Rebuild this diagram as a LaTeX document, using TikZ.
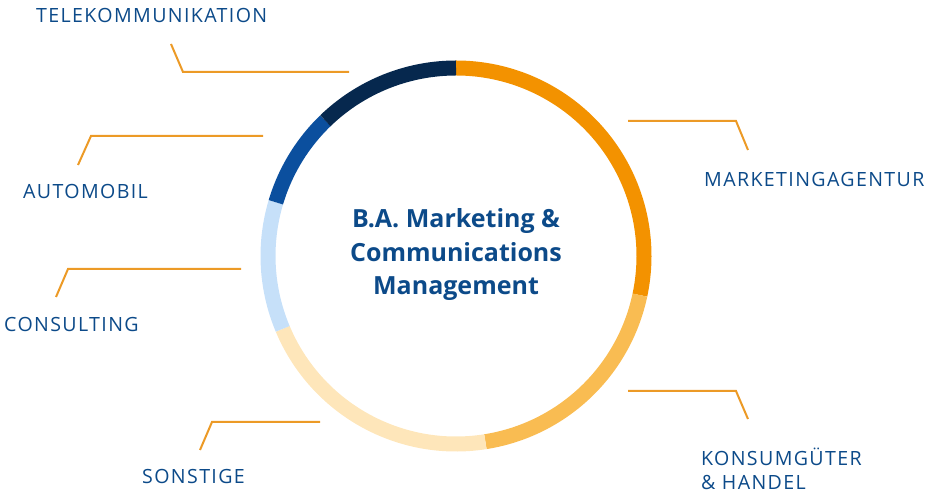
\documentclass[tikz,border=0pt]{standalone}
\usepackage{fontspec}
\setmainfont{Open Sans}
\newfontfamily\branchfont[LetterSpace=7]{Open Sans}
\definecolor{segA}{HTML}{F39200}
\definecolor{segB}{HTML}{F9BC52}
\definecolor{segC}{HTML}{FEE6BA}
\definecolor{segD}{HTML}{C6E0F9}
\definecolor{segE}{HTML}{0B4F9E}
\definecolor{segF}{HTML}{06284E}
\definecolor{leadcol}{HTML}{EC9A26}
\definecolor{textblue}{HTML}{0C4A89}

\begin{document}
\begin{tikzpicture}[x=1pt,y=1pt]
\tikzstyle{every node}+=[inner sep=0pt, text=textblue]
\tikzstyle{branch}=[font=\branchfont\fontsize{19.6}{24}\selectfont, anchor=base west, align=left]
\tikzstyle{leader}=[leadcol, line width=2pt]
\useasboundingbox (0,0) rectangle (932,500);

\coordinate (c) at (456,244);
\foreach \from/\to/\col in {90/-12/segA, -12/-81/segB, -81/-157.2/segC, 202.8/163.4/segD, 163.4/134/segE, 134/90/segF}
  \draw [line width=15pt, \col] (c) ++(\from:188) arc [start angle=\from, end angle=\to, radius=188];

\node [font=\bfseries\fontsize{25}{33.5}\selectfont, align=center] (title) at (456,245) {B.A. Marketing \&\\Communications\\Management};

\node [branch] (tel) at (36,477) {TELEKOMMUNIKATION};
\node [branch] (auto) at (23,301) {AUTOMOBIL};
\node [branch] (cons) at (4,168) {CONSULTING};
\node [branch] (sons) at (142,16) {SONSTIGE};
\node [branch] (mkt) at (704,313) {MARKETINGAGENTUR};
\node [branch] (kons) at (701,10) {KONSUMGÜTER\\\& HANDEL};

\coordinate (tel1) at (171,456); \coordinate (tel2) at (183,428); \coordinate (tel3) at (349,428);
\coordinate (auto1) at (78,335); \coordinate (auto2) at (91,364); \coordinate (auto3) at (263,364);
\coordinate (cons1) at (56,203); \coordinate (cons2) at (68,231); \coordinate (cons3) at (241,231);
\coordinate (sons1) at (200,50); \coordinate (sons2) at (212,78); \coordinate (sons3) at (320,78);
\coordinate (mkt1) at (748,350); \coordinate (mkt2) at (736,379); \coordinate (mkt3) at (628,379);
\coordinate (kons1) at (748,81); \coordinate (kons2) at (736,109); \coordinate (kons3) at (628,109);
\draw [leader] (tel1) -- (tel2) -- (tel3);
\draw [leader] (auto1) -- (auto2) -- (auto3);
\draw [leader] (cons1) -- (cons2) -- (cons3);
\draw [leader] (sons1) -- (sons2) -- (sons3);
\draw [leader] (mkt1) -- (mkt2) -- (mkt3);
\draw [leader] (kons1) -- (kons2) -- (kons3);
\end{tikzpicture}
\end{document}
